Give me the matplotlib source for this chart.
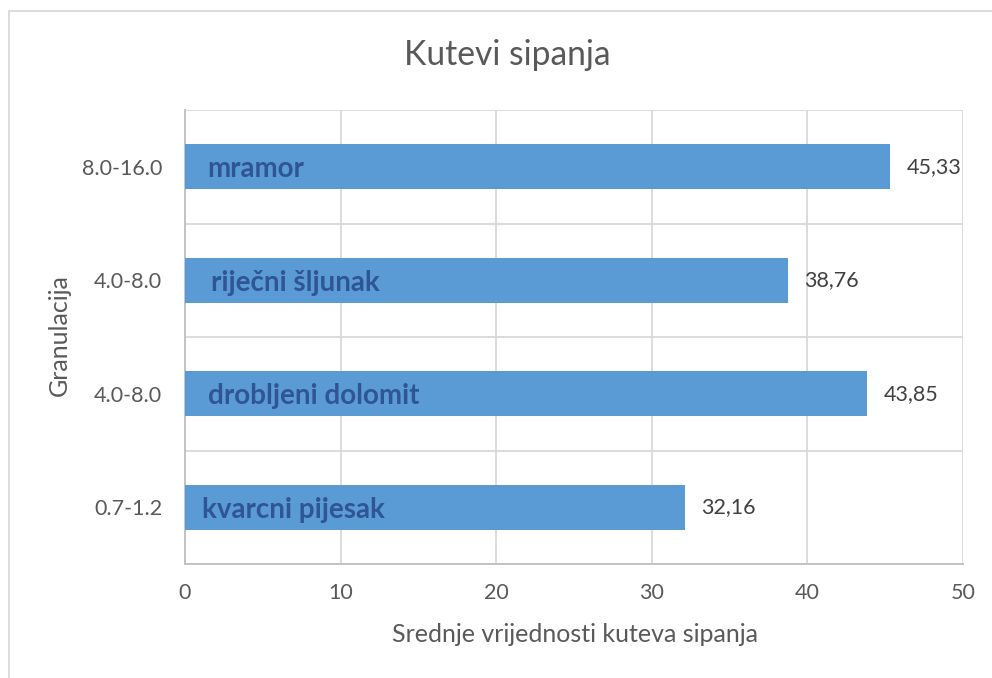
import matplotlib
matplotlib.use("Agg")
import matplotlib.pyplot as plt
from matplotlib.lines import Line2D
import numpy as np

# ---- data ----
granulation = ["0.7-1.2", "4.0-8.0", "4.0-8.0", "8.0-16.0"]
materials = ["kvarcni pijesak", "drobljeni dolomit", "riječni šljunak", "mramor"]
mean_angles = [32.16, 43.85, 38.76, 45.33]
x_ticks = [0, 10, 20, 30, 40, 50]

title = "Kutevi sipanja"
x_label = "Srednje vrijednosti kuteva sipanja"
y_label = "Granulacija"

# ---- layout / style ----
W, H = 992, 678
DPI = 100
FONT = ["Lato", "DejaVu Sans"]
GRAY_TEXT = "#595959"
BAR_COLOR = "#5B9BD5"
INBAR_COLOR = "#2F5597"
GRID_COLOR = "#D9D9D9"
AXIS_COLOR = "#BFBFBF"
inbar_offsets_pt = [12, 16.5, 19, 16]  # horizontal offsets of in-bar labels

plt.rcParams["font.family"] = FONT

fig = plt.figure(figsize=(W / DPI, H / DPI), dpi=DPI)
fig.patch.set_facecolor("white")

left, right, top, bottom = 185, 963, 110, 564
ax = fig.add_axes([left / W, 1 - bottom / H, (right - left) / W, (bottom - top) / H])

pos = np.arange(len(granulation))
bars = ax.barh(pos, mean_angles, height=0.4, color=BAR_COLOR, zorder=3)

ax.set_xlim(0, 50)
ax.set_ylim(-0.5, len(granulation) - 0.5)
ax.set_xticks(x_ticks)
ax.set_xticklabels([str(t) for t in x_ticks])
ax.set_yticks(pos)
ax.set_yticklabels(granulation)
ax.set_yticks(np.arange(-0.5, len(granulation), 1.0), minor=True)

ax.tick_params(axis="both", which="both", length=0, colors=GRAY_TEXT, labelsize=15.5)
ax.tick_params(axis="x", pad=14)
ax.tick_params(axis="y", pad=16.5)

ax.grid(axis="x", which="major", color=GRID_COLOR, linewidth=1.3, zorder=0)
ax.grid(axis="y", which="minor", color=GRID_COLOR, linewidth=1.3, zorder=0)
ax.set_axisbelow(True)

for side in ["top", "right"]:
    ax.spines[side].set_visible(False)
for side in ["left", "bottom"]:
    ax.spines[side].set_color(AXIS_COLOR)
    ax.spines[side].set_linewidth(1.3)

# value labels
ax.bar_label(bars, labels=[f"{v:.2f}".replace(".", ",") for v in mean_angles],
             padding=11.5, fontsize=15.5, color="#404040")

# in-bar material labels
for p, name, off in zip(pos, materials, inbar_offsets_pt):
    ax.annotate(name, xy=(0, p), xytext=(off, 0), textcoords="offset points",
                ha="left", va="center_baseline", fontsize=20, fontweight="bold",
                color=INBAR_COLOR, zorder=4)

# axis titles
ax.set_xlabel(x_label, fontsize=18, color=GRAY_TEXT, va="center")
ax.xaxis.set_label_coords((575.5 - left) / (right - left), (bottom - 634) / (bottom - top))
ax.set_ylabel(y_label, fontsize=18, color=GRAY_TEXT, va="center", ha="center")
ax.yaxis.set_label_coords((59 - left) / (right - left), (bottom - 335) / (bottom - top))

# chart title
fig.text(507 / W, 1 - 55 / H, title, fontsize=24.2, color=GRAY_TEXT, ha="center", va="center")

# chart border (partially visible)
fig.add_artist(Line2D([8.5 / W, 1], [1 - 10.5 / H, 1 - 10.5 / H], transform=fig.transFigure,
                      color=GRID_COLOR, linewidth=1.3))
fig.add_artist(Line2D([8.5 / W, 8.5 / W], [0, 1 - 10.5 / H], transform=fig.transFigure,
                      color=GRID_COLOR, linewidth=1.3))

fig.savefig("out.png", dpi=DPI)
